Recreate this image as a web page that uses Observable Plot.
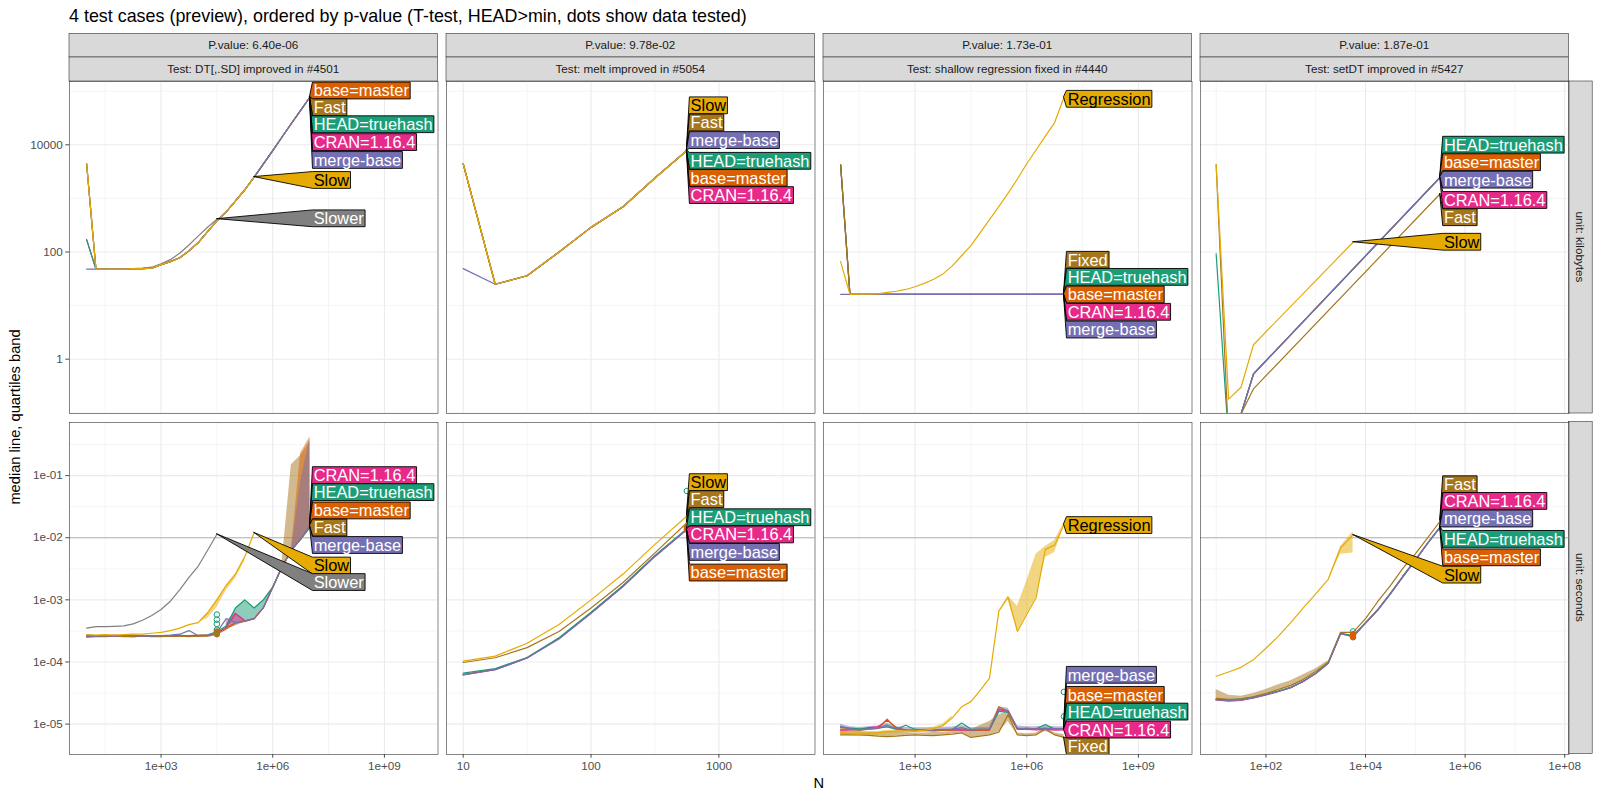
<!DOCTYPE html>
<html><head><meta charset="utf-8">
<script src="https://cdn.jsdelivr.net/npm/d3@7"></script>
<script src="https://cdn.jsdelivr.net/npm/@observablehq/plot@0.6"></script>
<style>
body{margin:0;background:#fff;}
#root{position:relative;width:1600px;height:800px;overflow:hidden;background:#fff;font-family:"Liberation Sans",Arial,Helvetica,sans-serif;}
</style></head><body><div id="root"></div>
<script>
// ---------------- text ----------------
const TITLE = "4 test cases (preview), ordered by p-value (T-test, HEAD>min, dots show data tested)";
const PVALUES = ["P.value: 6.40e-06", "P.value: 9.78e-02", "P.value: 1.73e-01", "P.value: 1.87e-01"];
const TESTS = ["Test: DT[,.SD] improved in #4501", "Test: melt improved in #5054", "Test: shallow regression fixed in #4440", "Test: setDT improved in #5427"];
const UNITS = ["unit: kilobytes", "unit: seconds"];
const X_TITLE = "N";
const Y_TITLE = "median line, quartiles band";

// ---------------- series ----------------
const SERIES = ["HEAD=truehash", "base=master", "merge-base", "CRAN=1.16.4", "Fast", "Slow", "Slower", "Regression", "Fixed"];
const COLORS = ["#1B9E77", "#D95F02", "#7570B3", "#E7298A", "#A6761D", "#E6AB02", "#808080", "#E6AB02", "#A6761D"];
const DARK_TEXT = ["Slow", "Regression"];

// ---------------- ticks ----------------
const xt_wide = [1e3, 1e6, 1e9];
const xl_wide = ["1e+03", "1e+06", "1e+09"];
const xm_wide = [31.6, 31623, 3.16e7, 3.16e10];
const xt_melt = [10, 100, 1000];
const xl_melt = ["10", "100", "1000"];
const xm_melt = [31.6, 316, 3162];
const xt_set = [100, 1e4, 1e6, 1e8];
const xl_set = ["1e+02", "1e+04", "1e+06", "1e+08"];
const xm_set = [10, 1000, 1e5, 1e7];
const yt_kb = [1, 100, 10000];
const yl_kb = ["1", "100", "10000"];
const ym_kb = [0.1, 10, 1000, 100000];
const yt_s = [1e-5, 1e-4, 1e-3, 1e-2, 1e-1];
const yl_s = ["1e-05", "1e-04", "1e-03", "1e-02", "1e-01"];
const ym_s = [3.16e-6, 3.16e-5, 3.16e-4, 3.16e-3, 3.16e-2, 0.316];
const HLINE_S = [0.01];

// ---------------- N grids ----------------
const N_dtsd = [10, 17.8, 31.6, 56.2, 100, 178, 316, 562, 1000, 1780, 3160, 5620, 10000, 17800, 31600, 56200, 100000, 178000, 316000, 562000, 1000000, 1780000, 3160000, 5620000, 10000000];
const N_melt = [10, 17.8, 31.6, 56.2, 100, 178, 316, 562];
const N_shallow = [10, 17.8, 31.6, 56.2, 100, 178, 316, 562, 1000, 1780, 3160, 5620, 10000, 17800, 31600, 56200, 100000, 178000, 316000, 562000, 1000000, 1780000, 3160000, 5620000, 10000000];
const N_set = [10, 17.8, 31.6, 56.2, 100, 178, 316, 562, 1000, 1780, 3160, 5620, 10000, 17800, 31600, 56200, 100000, 178000, 316000];

// ---------------- DT[,.SD] ----------------
const kb_dtsd = [
  ["base=master", [4430, 48, 48, 48, 48, 49, 49, 50, 58, 66, 78, 105, 150, 240, 380, 560, 900, 1450, 2500, 4400, 7800, 14000, 25000, 44000, 78000]],
  ["CRAN=1.16.4", [170, 48, 48, 48, 48, 49, 49, 50, 58, 66, 78, 105, 150, 240, 380, 560, 900, 1450, 2500, 4400, 7800, 14000, 25000, 44000, 78000]],
  ["HEAD=truehash", [170, 48, 48, 48, 48, 49, 49, 50, 58, 66, 78, 105, 150, 240, 380, 560, 900, 1450, 2500, 4400, 7800, 14000, 25000, 44000, 78000]],
  ["Fast", [4430, 48, 48, 48, 48, 49, 49, 50, 58, 66, 78, 105, 150, 240, 380, 560, 900, 1450, 2500, 4400, 7800, 14000, 25000, 44000, 78000]],
  ["Slower", [4430, 48, 48, 48, 48, 49, 50, 52, 60, 72, 95, 135, 200, 290, 410]],
  ["merge-base", [48, 48, 48, 48, 48, 49, 49, 50, 58, 66, 78, 105, 150, 240, 380, 560, 900, 1450, 2500, 4400, 7800, 14000, 25000, 44000, 78000]],
  ["Slow", [4430, 48, 48, 48, 48, 49, 49, 50, 58, 66, 78, 105, 150, 240, 380, 560, 900, 1450, 2500]]
];
const s_dtsd = [
  ["base=master", [2.6e-4, 2.6e-4, 2.65e-4, 2.65e-4, 2.6e-4, 2.6e-4, 2.65e-4, 2.6e-4, 2.65e-4, 2.6e-4, 2.6e-4, 2.65e-4, 2.7e-4, 2.7e-4, 2.9e-4, 3.6e-4, 4.3e-4, 4.6e-4, 5.0e-4, 7.5e-4, 1.6e-3, 3.4e-3, 6.3e-3, 9.5e-3, 0.0155]],
  ["CRAN=1.16.4", [2.55e-4, 2.6e-4, 2.6e-4, 2.7e-4, 2.6e-4, 2.55e-4, 2.6e-4, 2.6e-4, 2.6e-4, 2.6e-4, 2.65e-4, 2.6e-4, 2.6e-4, 2.65e-4, 2.9e-4, 3.6e-4, 6.0e-4, 4.6e-4, 5.0e-4, 7.5e-4, 1.6e-3, 3.4e-3, 6.3e-3, 9.5e-3, 0.0155]],
  ["HEAD=truehash", [2.7e-4, 2.65e-4, 2.7e-4, 2.6e-4, 2.65e-4, 2.7e-4, 2.6e-4, 2.65e-4, 2.6e-4, 2.65e-4, 2.7e-4, 2.6e-4, 2.65e-4, 2.7e-4, 3.1e-4, 3.8e-4, 7.4e-4, 1.0e-3, 7.4e-4, 1.0e-3, 1.6e-3, 3.4e-3, 6.3e-3, 9.5e-3, 0.0145]],
  ["Fast", [2.5e-4, 2.55e-4, 2.55e-4, 2.6e-4, 2.55e-4, 2.55e-4, 2.6e-4, 2.55e-4, 2.55e-4, 2.6e-4, 2.6e-4, 2.55e-4, 2.6e-4, 2.6e-4, 2.8e-4, 3.4e-4, 4.2e-4, 4.5e-4, 5.0e-4, 7.5e-4, 1.6e-3, 3.4e-3, 6.3e-3, 9.5e-3, 0.0155]],
  ["Slower", [3.5e-4, 3.7e-4, 3.7e-4, 3.75e-4, 3.8e-4, 4.1e-4, 4.7e-4, 5.6e-4, 7.0e-4, 9.5e-4, 1.45e-3, 2.3e-3, 3.5e-3, 6.3e-3, 0.0114]],
  ["merge-base", [2.6e-4, 2.6e-4, 2.65e-4, 2.6e-4, 2.7e-4, 2.65e-4, 2.6e-4, 2.6e-4, 2.65e-4, 2.7e-4, 2.8e-4, 3.2e-4, 2.65e-4, 2.7e-4, 3.0e-4, 5.0e-4, 4.3e-4, 4.6e-4, 5.0e-4, 7.5e-4, 1.6e-3, 3.4e-3, 6.3e-3, 9.5e-3, 0.0155]],
  ["Slow", [2.75e-4, 2.7e-4, 2.75e-4, 2.7e-4, 2.75e-4, 2.8e-4, 2.8e-4, 2.9e-4, 3.0e-4, 3.2e-4, 3.5e-4, 4.0e-4, 4.3e-4, 6.2e-4, 1.0e-3, 1.7e-3, 2.6e-3, 5.0e-3, 0.012]]
];
const bands_s_dtsd = [
  ["HEAD=truehash", [56200, 100000, 178000, 316000, 562000, 1000000], [3.8e-4, 4.3e-4, 4.6e-4, 5.0e-4, 7.5e-4, 1.6e-3], [3.8e-4, 7.4e-4, 1.0e-3, 7.4e-4, 1.0e-3, 1.6e-3]],
  ["CRAN=1.16.4", [56200, 100000, 178000], [3.4e-4, 3.8e-4, 4.4e-4], [4.5e-4, 6.2e-4, 4.8e-4]],
  ["Slow", [10000, 17800, 31600, 56200, 100000, 178000], [4.3e-4, 5.0e-4, 7.5e-4, 1.4e-3, 2.2e-3, 4.2e-3], [4.3e-4, 6.2e-4, 1.0e-3, 1.7e-3, 2.6e-3, 5.0e-3]],
  ["Fast", [1780000, 3160000, 5620000, 10000000], [3.4e-3, 6.3e-3, 9.5e-3, 0.0155], [4.0e-3, 0.15, 0.21, 0.35]],
  ["base=master", [3160000, 5620000, 10000000], [6.3e-3, 9.5e-3, 0.0155], [6.3e-3, 0.23, 0.42]],
  ["merge-base", [3160000, 5620000, 10000000], [6.3e-3, 9.5e-3, 0.0155], [6.3e-3, 0.08, 0.40]]
];
const dots_s_dtsd = [
  ["HEAD=truehash", 31600, [5.8e-4, 4.8e-4, 4.1e-4, 3.3e-4]],
  ["Fast", 31600, [3.1e-4, 2.8e-4]]
];
const lab_kb_dtsd = [["base=master", 100900], ["Fast", 49200], ["HEAD=truehash", 23700], ["CRAN=1.16.4", 11000], ["merge-base", 5100], ["Slow", 2160], ["Slower", 416]];
const lab_s_dtsd = [["CRAN=1.16.4", 0.1], ["HEAD=truehash", 0.0532], ["base=master", 0.027], ["Fast", 0.0143], ["merge-base", 7.5e-3], ["Slow", 3.5e-3], ["Slower", 1.9e-3]];

// ---------------- melt ----------------
const kb_melt = [
  ["base=master", [4430, 25, 36, 100, 288, 700, 2400, 7830]],
  ["CRAN=1.16.4", [4430, 25, 36, 100, 288, 700, 2400, 7830]],
  ["HEAD=truehash", [4430, 25, 36, 100, 288, 700, 2400, 7830]],
  ["Fast", [4430, 25, 36, 100, 288, 700, 2400, 7830]],
  ["merge-base", [49, 25, 36, 100, 288, 700, 2400, 7830]],
  ["Slow", [4430, 25, 36, 100, 288, 700, 2400, 7830]]
];
const s_melt = [
  ["base=master", [6.3e-5, 7.6e-5, 1.17e-4, 2.4e-4, 6.2e-4, 1.67e-3, 5.1e-3, 0.0137]],
  ["CRAN=1.16.4", [6.2e-5, 7.5e-5, 1.16e-4, 2.4e-4, 6.1e-4, 1.65e-3, 5.0e-3, 0.0135]],
  ["HEAD=truehash", [6.6e-5, 7.8e-5, 1.18e-4, 2.45e-4, 6.3e-4, 1.7e-3, 5.2e-3, 0.014]],
  ["Fast", [9.8e-5, 1.17e-4, 1.7e-4, 3.1e-4, 7.4e-4, 1.9e-3, 5.7e-3, 0.0174]],
  ["merge-base", [6.2e-5, 7.5e-5, 1.16e-4, 2.35e-4, 6.1e-4, 1.64e-3, 5.0e-3, 0.0136]],
  ["Slow", [1.03e-4, 1.24e-4, 2.0e-4, 4.0e-4, 1.0e-3, 2.6e-3, 7.8e-3, 0.0224]]
];
const dots_s_melt = [
  ["HEAD=truehash", 562, [0.0566]],
  ["base=master", 562, [0.0145, 0.0135]]
];
const lab_kb_melt = [["Slow", 53400], ["Fast", 25500], ["merge-base", 12000], ["HEAD=truehash", 4920], ["base=master", 2370], ["CRAN=1.16.4", 1130]];
const lab_s_melt = [["Slow", 0.077], ["Fast", 0.041], ["HEAD=truehash", 0.021], ["CRAN=1.16.4", 0.0111], ["merge-base", 5.8e-3], ["base=master", 2.7e-3]];

// ---------------- shallow regression ----------------
const kb_shallow = [
  ["base=master", [4240, 16.2, 16.2, 16.2, 16.2, 16.2, 16.2, 16.2, 16.2, 16.2, 16.2, 16.2, 16.2, 16.2, 16.2, 16.2, 16.2, 16.2, 16.2, 16.2, 16.2, 16.2, 16.2, 16.2, 16.2]],
  ["CRAN=1.16.4", [4240, 16.2, 16.2, 16.2, 16.2, 16.2, 16.2, 16.2, 16.2, 16.2, 16.2, 16.2, 16.2, 16.2, 16.2, 16.2, 16.2, 16.2, 16.2, 16.2, 16.2, 16.2, 16.2, 16.2, 16.2]],
  ["HEAD=truehash", [4240, 16.2, 16.2, 16.2, 16.2, 16.2, 16.2, 16.2, 16.2, 16.2, 16.2, 16.2, 16.2, 16.2, 16.2, 16.2, 16.2, 16.2, 16.2, 16.2, 16.2, 16.2, 16.2, 16.2, 16.2]],
  ["Fixed", [4240, 16.2, 16.2, 16.2, 16.2, 16.2, 16.2, 16.2, 16.2, 16.2, 16.2, 16.2, 16.2, 16.2, 16.2, 16.2, 16.2, 16.2, 16.2, 16.2, 16.2, 16.2, 16.2, 16.2, 16.2]],
  ["merge-base", [16.2, 16.2, 16.2, 16.2, 16.2, 16.2, 16.2, 16.2, 16.2, 16.2, 16.2, 16.2, 16.2, 16.2, 16.2, 16.2, 16.2, 16.2, 16.2, 16.2, 16.2, 16.2, 16.2, 16.2, 16.2]],
  ["Regression", [66, 16.2, 16.3, 16.4, 16.6, 17.6, 18.5, 20, 22.5, 26, 31, 39, 55, 85, 131, 230, 400, 700, 1250, 2300, 4430, 8000, 14500, 26000, 77000]]
];
const s_shallow = [
  ["CRAN=1.16.4", [8.0e-6, 8.1e-6, 8.2e-6, 8.8e-6, 9.0e-6, 1.15e-5, 8.8e-6, 8.0e-6, 7.8e-6, 7.9e-6, 7.8e-6, 7.9e-6, 8.0e-6, 8.1e-6, 7.9e-6, 7.9e-6, 8.0e-6, 1.7e-5, 1.6e-5, 8.2e-6, 8.2e-6, 8.1e-6, 8.2e-6, 8.0e-6, 8.1e-6]],
  ["HEAD=truehash", [8.8e-6, 8.6e-6, 8.4e-6, 8.5e-6, 8.6e-6, 9.0e-6, 8.3e-6, 9.6e-6, 8.2e-6, 8.1e-6, 8.0e-6, 8.1e-6, 8.2e-6, 1.04e-5, 8.3e-6, 8.2e-6, 8.2e-6, 1.6e-5, 1.55e-5, 8.4e-6, 8.3e-6, 8.4e-6, 9.8e-6, 8.3e-6, 8.5e-6]],
  ["base=master", [8.3e-6, 8.2e-6, 8.0e-6, 8.3e-6, 8.5e-6, 1.2e-5, 8.4e-6, 8.0e-6, 7.9e-6, 8.0e-6, 7.9e-6, 8.0e-6, 8.1e-6, 8.3e-6, 8.0e-6, 8.0e-6, 8.1e-6, 1.9e-5, 1.6e-5, 8.3e-6, 8.6e-6, 8.3e-6, 8.5e-6, 8.2e-6, 8.3e-6]],
  ["Fixed", [6.7e-6, 6.7e-6, 6.7e-6, 6.6e-6, 6.4e-6, 6.3e-6, 6.4e-6, 6.6e-6, 6.7e-6, 6.6e-6, 6.5e-6, 6.7e-6, 6.9e-6, 7.2e-6, 6.1e-6, 6.4e-6, 6.7e-6, 7.4e-6, 1.42e-5, 6.7e-6, 6.5e-6, 6.7e-6, 8.4e-6, 6.7e-6, 6.1e-6]],
  ["merge-base", [9.2e-6, 8.4e-6, 8.1e-6, 8.4e-6, 8.6e-6, 9.6e-6, 8.4e-6, 8.1e-6, 8.0e-6, 8.0e-6, 8.0e-6, 8.2e-6, 8.3e-6, 8.8e-6, 8.0e-6, 8.2e-6, 8.2e-6, 1.75e-5, 1.65e-5, 8.6e-6, 8.4e-6, 8.4e-6, 8.6e-6, 8.4e-6, 8.4e-6]],
  ["Regression", [7.2e-6, 7.0e-6, 6.9e-6, 7.1e-6, 7.3e-6, 7.6e-6, 7.7e-6, 7.8e-6, 7.8e-6, 8.0e-6, 8.4e-6, 9.5e-6, 1.26e-5, 1.9e-5, 2.3e-5, 3.5e-5, 5.5e-5, 6.6e-4, 1.1e-3, 3.1e-4, 5.8e-4, 1.08e-3, 6.5e-3, 7.6e-3, 0.0164]]
];
const bands_s_shallow = [
  ["Fixed", [10, 17.8, 31.6, 56.2, 100, 178, 316, 562, 1000, 1780, 3160, 5620, 10000, 17800, 31600, 56200, 100000, 178000, 316000, 562000, 1000000, 1780000, 3160000, 5620000, 10000000],
    [6.7e-6, 6.7e-6, 6.7e-6, 6.6e-6, 6.4e-6, 6.3e-6, 6.4e-6, 6.6e-6, 6.7e-6, 6.6e-6, 6.5e-6, 6.7e-6, 6.9e-6, 7.2e-6, 6.1e-6, 6.4e-6, 6.7e-6, 7.4e-6, 1.1e-5, 6.7e-6, 6.5e-6, 6.7e-6, 7.6e-6, 6.7e-6, 6.1e-6],
    [8.0e-6, 7.8e-6, 7.6e-6, 7.4e-6, 7.3e-6, 7.6e-6, 7.5e-6, 7.3e-6, 7.2e-6, 7.2e-6, 7.3e-6, 7.4e-6, 7.6e-6, 8.4e-6, 8.0e-6, 9.5e-6, 1.1e-5, 1.4e-5, 1.6e-5, 7.2e-6, 7.0e-6, 7.2e-6, 8.8e-6, 7.2e-6, 6.8e-6]],
  ["merge-base", [10, 17.8, 31.6, 56.2, 100, 178, 316, 562, 1000, 1780, 3160, 5620, 10000, 17800, 31600, 56200, 100000, 178000, 316000, 562000, 1000000, 1780000, 3160000, 5620000, 10000000],
    [8.6e-6, 7.9e-6, 7.6e-6, 7.9e-6, 8.1e-6, 8.9e-6, 7.9e-6, 7.6e-6, 7.5e-6, 7.5e-6, 7.5e-6, 7.7e-6, 7.8e-6, 8.2e-6, 7.5e-6, 7.7e-6, 7.7e-6, 1.55e-5, 1.5e-5, 8.0e-6, 7.9e-6, 7.9e-6, 8.0e-6, 7.9e-6, 7.9e-6],
    [9.9e-6, 9.1e-6, 8.8e-6, 9.1e-6, 9.3e-6, 1.03e-5, 9.1e-6, 8.8e-6, 8.7e-6, 8.7e-6, 8.7e-6, 8.9e-6, 9.0e-6, 9.5e-6, 8.7e-6, 8.9e-6, 8.9e-6, 1.9e-5, 1.8e-5, 9.3e-6, 9.1e-6, 9.1e-6, 9.3e-6, 9.1e-6, 9.1e-6]],
  ["Regression", [10, 17.8, 31.6, 56.2, 100, 178, 316, 562, 1000, 1780, 3160, 5620, 10000],
    [6.6e-6, 6.5e-6, 6.4e-6, 6.5e-6, 6.7e-6, 6.9e-6, 7.1e-6, 7.3e-6, 7.4e-6, 7.6e-6, 8.0e-6, 9.0e-6, 1.2e-5],
    [7.8e-6, 7.6e-6, 7.4e-6, 7.5e-6, 7.6e-6, 7.9e-6, 8.0e-6, 8.1e-6, 8.1e-6, 8.3e-6, 8.9e-6, 1.0e-5, 1.35e-5]],
  ["Regression", [178000, 316000, 562000, 1000000, 1780000, 3160000, 5620000, 10000000],
    [6.6e-4, 1.0e-3, 3.1e-4, 5.8e-4, 1.08e-3, 4.8e-3, 5.8e-3, 0.015],
    [6.6e-4, 1.15e-3, 7.9e-4, 2.0e-3, 5.4e-3, 7.2e-3, 9.0e-3, 0.0172]]
];
const dots_s_shallow = [
  ["HEAD=truehash", 10000000, [3.3e-5, 1.33e-5]]
];
const lab_kb_shallow = [["Regression", 70600], ["Fixed", 70], ["HEAD=truehash", 33.6], ["base=master", 15.8], ["CRAN=1.16.4", 7.5], ["merge-base", 3.5]];
const lab_s_shallow = [["Regression", 0.0157], ["merge-base", 6.1e-5], ["base=master", 2.9e-5], ["HEAD=truehash", 1.56e-5], ["CRAN=1.16.4", 8.0e-6], ["Fixed", 4.3e-6]];

// ---------------- setDT ----------------
const kb_set = [
  ["base=master", [0.05, 0.03, 0.095, 0.53, null, null, null, null, null, null, null, null, null, null, null, null, null, null, 2480]],
  ["CRAN=1.16.4", [0.05, 0.03, 0.095, 0.53, null, null, null, null, null, null, null, null, null, null, null, null, null, null, 2480]],
  ["HEAD=truehash", [92.5, 0.03, 0.095, 0.53, null, null, null, null, null, null, null, null, null, null, null, null, null, null, 2480]],
  ["Fast", [4290, 0.03, 0.095, 0.28, null, null, null, null, null, null, null, null, null, null, null, null, null, null, 1220]],
  ["merge-base", [0.05, 0.03, 0.095, 0.53, null, null, null, null, null, null, null, null, null, null, null, null, null, null, 2480]],
  ["Slow", [4290, 0.18, 0.30, 1.86, null, null, null, null, null, null, null, 152]]
];
const s_set = [
  ["base=master", [2.5e-5, 2.45e-5, 2.5e-5, 2.7e-5, 3.0e-5, 3.4e-5, 3.9e-5, 4.9e-5, 6.6e-5, 9.6e-5, 2.9e-4, 2.6e-4, 4.3e-4, 7.0e-4, 1.27e-3, 2.4e-3, 4.4e-3, 8.3e-3, 0.015]],
  ["CRAN=1.16.4", [2.45e-5, 2.35e-5, 2.4e-5, 2.65e-5, 2.95e-5, 3.35e-5, 3.85e-5, 4.85e-5, 6.5e-5, 9.5e-5, 2.85e-4, 2.55e-4, 4.2e-4, 6.9e-4, 1.25e-3, 2.35e-3, 4.3e-3, 8.2e-3, 0.0148]],
  ["HEAD=truehash", [2.5e-5, 2.45e-5, 2.55e-5, 2.75e-5, 3.05e-5, 3.4e-5, 3.9e-5, 4.9e-5, 6.6e-5, 9.6e-5, 2.9e-4, 2.65e-4, 4.3e-4, 7.0e-4, 1.27e-3, 2.4e-3, 4.4e-3, 8.3e-3, 0.015]],
  ["Fast", [2.6e-5, 2.5e-5, 2.5e-5, 2.75e-5, 3.1e-5, 3.6e-5, 4.2e-5, 5.2e-5, 7.0e-5, 1.0e-4, 3.0e-4, 3.0e-4, 5.0e-4, 9.5e-4, 1.7e-3, 3.2e-3, 5.5e-3, 1.0e-2, 0.0186]],
  ["merge-base", [2.45e-5, 2.4e-5, 2.45e-5, 2.65e-5, 2.95e-5, 3.35e-5, 3.85e-5, 4.85e-5, 6.5e-5, 9.5e-5, 2.85e-4, 2.55e-4, 4.25e-4, 6.9e-4, 1.25e-3, 2.35e-3, 4.3e-3, 8.2e-3, 0.0147]],
  ["Slow", [5.9e-5, 6.9e-5, 8.2e-5, 1.09e-4, 1.66e-4, 2.6e-4, 4.3e-4, 7.4e-4, 1.25e-3, 2.13e-3, 6.9e-3, 0.0111]]
];
const bands_s_set = [
  ["Fast", [10, 17.8, 31.6, 56.2, 100, 178, 316, 562, 1000, 1780],
    [2.4e-5, 2.45e-5, 2.45e-5, 2.7e-5, 3.0e-5, 3.5e-5, 4.0e-5, 5.1e-5, 6.9e-5, 9.8e-5],
    [3.6e-5, 2.9e-5, 2.8e-5, 3.1e-5, 3.6e-5, 4.3e-5, 5.0e-5, 6.2e-5, 7.8e-5, 1.05e-4]],
  ["Slow", [1780, 3160, 5620], [2.13e-3, 5.4e-3, 5.7e-3], [2.13e-3, 7.2e-3, 0.0125]]
];
const dots_s_set = [
  ["HEAD=truehash", 5620, [3.1e-4]],
  ["base=master", 5620, [2.8e-4, 2.5e-4]]
];
const lab_kb_set = [["HEAD=truehash", 9830], ["base=master", 4640], ["merge-base", 2190], ["CRAN=1.16.4", 914], ["Fast", 436], ["Slow", 152]];
const lab_s_set = [["Fast", 0.0713], ["CRAN=1.16.4", 0.0384], ["merge-base", 0.020], ["HEAD=truehash", 0.0094], ["base=master", 4.75e-3], ["Slow", 2.5e-3]];

// ---------------- layout ----------------
const FONT = '"Liberation Sans", Arial, Helvetica, sans-serif';
const PANEL_X = [69, 446, 823, 1200];
const PANEL_W = 368.5;
const PANEL_Y = [81, 421.5];
const PANEL_H = [332, 332];
const LABEL_FONT = 16.4, LABEL_H = 16.8;
const LINE_W = 1.2;

const colorOf = new Map(SERIES.map((s, i) => [s, COLORS[i]]));
const ctx = document.createElement("canvas").getContext("2d");
ctx.font = `${LABEL_FONT}px "Liberation Sans"`;
const measure = t => ctx.measureText(t).width;

function rowsFrom(N, table) {
  const out = [];
  for (const [s, vals] of table) vals.forEach((v, i) => { if (v != null) out.push({series: s, N: N[i], v}); });
  return out;
}
function bandsFrom(table) {
  const out = [];
  table.forEach(([s, Ns, lo, hi], k) => Ns.forEach((n, i) => out.push({series: s, grp: s + k, N: n, lo: lo[i], hi: hi[i]})));
  return out;
}
function dotsFrom(table) {
  const out = [];
  for (const [s, n, vals] of table) for (const v of vals) out.push({series: s, N: n, v});
  return out;
}

let clipId = 0;
function labelMark(labels, lineRows, maxN, ml, w, h) {
  return (index, scales) => {
    const id = "lblclip" + (clipId++);
    const g = d3.create("svg:g").attr("text-anchor", "start");
    g.append("defs").append("clipPath").attr("id", id)
      .append("rect").attr("x", ml).attr("y", 0).attr("width", w).attr("height", h);
    const inner = g.append("g").attr("clip-path", `url(#${id})`);
    const bx = scales.x(maxN) + 3;
    for (const [s, ly] of labels) {
      const pts = lineRows.filter(d => d.series === s);
      const end = pts[pts.length - 1];
      const tx = scales.x(end.N), ty = scales.y(end.v);
      const cy = scales.y(ly);
      const bw = measure(s) + 2.5;
      const t = cy - LABEL_H / 2, b = cy + LABEL_H / 2;
      inner.append("polygon")
        .attr("points", [[tx, ty], [bx, t], [bx + bw, t], [bx + bw, b], [bx, b]].map(p => p.join(",")).join(" "))
        .attr("fill", colorOf.get(s)).attr("stroke", "#000").attr("stroke-width", 0.9).attr("stroke-linejoin", "miter");
      inner.append("text").attr("x", bx + 1.2).attr("y", cy).attr("dy", "0.36em")
        .attr("text-anchor", "start")
        .attr("font-family", FONT).attr("font-size", LABEL_FONT + "px")
        .attr("fill", DARK_TEXT.includes(s) ? "#000" : "#fff").text(s);
    }
    return g.node();
  };
}

const root = document.getElementById("root");
const ov = d3.select(root).append("svg").attr("width", 1600).attr("height", 800)
  .style("position", "absolute").style("left", "0px").style("top", "0px").attr("font-family", FONT);

ov.append("text").attr("x", 69).attr("y", 21.7).attr("font-size", "17.9px").attr("fill", "#000").text(TITLE);
PANEL_X.forEach((x, c) => {
  ov.append("rect").attr("x", x).attr("y", 33.3).attr("width", PANEL_W).attr("height", 23.7)
    .attr("fill", "#D9D9D9").attr("stroke", "#333").attr("stroke-width", 0.6);
  ov.append("rect").attr("x", x).attr("y", 57).attr("width", PANEL_W).attr("height", 24)
    .attr("fill", "#D9D9D9").attr("stroke", "#333").attr("stroke-width", 0.6);
  ov.append("text").attr("x", x + PANEL_W / 2).attr("y", 45.2).attr("dy", "0.35em").attr("text-anchor", "middle")
    .attr("font-size", "11.7px").attr("fill", "#1A1A1A").text(PVALUES[c]);
  ov.append("text").attr("x", x + PANEL_W / 2).attr("y", 69).attr("dy", "0.35em").attr("text-anchor", "middle")
    .attr("font-size", "11.7px").attr("fill", "#1A1A1A").text(TESTS[c]);
});
PANEL_Y.forEach((y, r) => {
  const sx = PANEL_X[3] + PANEL_W;
  ov.append("rect").attr("x", sx).attr("y", y).attr("width", 23.7).attr("height", PANEL_H[r])
    .attr("fill", "#D9D9D9").attr("stroke", "#333").attr("stroke-width", 0.6);
  ov.append("text").attr("transform", `translate(${sx + 11.85},${y + PANEL_H[r] / 2}) rotate(90)`)
    .attr("dy", "0.35em").attr("text-anchor", "middle").attr("font-size", "11.7px").attr("fill", "#1A1A1A").text(UNITS[r]);
});
ov.append("text").attr("x", (PANEL_X[0] + PANEL_X[3] + PANEL_W) / 2).attr("y", 788).attr("text-anchor", "middle")
  .attr("font-size", "14.67px").attr("fill", "#000").text(X_TITLE);
ov.append("text").attr("transform", `translate(20,417) rotate(-90)`).attr("text-anchor", "middle")
  .attr("font-size", "14.67px").attr("fill", "#000").text(Y_TITLE);

const PANELS = [
  {N: N_dtsd, kb: kb_dtsd, s: s_dtsd, bands: bands_s_dtsd, dots: dots_s_dtsd, labKb: lab_kb_dtsd, labS: lab_s_dtsd,
   xDomain: [3.47, 2.75e10], xt: xt_wide, xl: xl_wide, xm: xm_wide},
  {N: N_melt, kb: kb_melt, s: s_melt, bands: [], dots: dots_s_melt, labKb: lab_kb_melt, labS: lab_s_melt,
   xDomain: [7.405, 5645], xt: xt_melt, xl: xl_melt, xm: xm_melt},
  {N: N_shallow, kb: kb_shallow, s: s_shallow, bands: bands_s_shallow, dots: dots_s_shallow, labKb: lab_kb_shallow, labS: lab_s_shallow,
   xDomain: [3.47, 2.75e10], xt: xt_wide, xl: xl_wide, xm: xm_wide},
  {N: N_set, kb: kb_set, s: s_set, bands: bands_s_set, dots: dots_s_set, labKb: lab_kb_set, labS: lab_s_set,
   xDomain: [4.85, 1.22e8], xt: xt_set, xl: xl_set, xm: xm_set}
];
const Y_ROWS = [
  {domain: [0.097, 151700], yt: yt_kb, yl: yl_kb, ym: ym_kb},
  {domain: [3.24e-6, 0.716], yt: yt_s, yl: yl_s, ym: ym_s}
];

PANELS.forEach((p, c) => {
  [0, 1].forEach(r => {
    const top = r === 0;
    const ml = c === 0 ? 45 : 0, mb = top ? 0 : 32;
    const W = PANEL_W, H = PANEL_H[r];
    const yr = Y_ROWS[r];
    const lineRows = rowsFrom(p.N, top ? p.kb : p.s);
    const bandRows = top ? [] : bandsFrom(p.bands);
    const dotRows = top ? [] : dotsFrom(p.dots);
    const openDots = dotRows.filter(d => d.series === "HEAD=truehash");
    const fillDots = dotRows.filter(d => d.series !== "HEAD=truehash");
    const xlab = new Map(p.xt.map((t, i) => [t, p.xl[i]]));
    const ylab = new Map(yr.yt.map((t, i) => [t, yr.yl[i]]));
    const maxN = d3.max(p.N);
    const marks = [
      Plot.ruleX(p.xm, {stroke: "#EBEBEB", strokeWidth: 0.55, clip: true}),
      Plot.ruleY(yr.ym, {stroke: "#EBEBEB", strokeWidth: 0.55, clip: true}),
      Plot.ruleX(p.xt, {stroke: "#EBEBEB", strokeWidth: 1.1, clip: true}),
      Plot.ruleY(yr.yt, {stroke: "#EBEBEB", strokeWidth: 1.1, clip: true})
    ];
    if (!top) marks.push(Plot.ruleY(HLINE_S, {stroke: "#B3B3B3", strokeWidth: 1.1, clip: true}));
    marks.push(
      Plot.areaY(bandRows, {x: "N", y1: "lo", y2: "hi", z: "grp", fill: "series", fillOpacity: 0.5, clip: true}),
      Plot.line(lineRows, {x: "N", y: "v", z: "series", stroke: "series", strokeWidth: LINE_W, clip: true}),
      Plot.dot(openDots, {x: "N", y: "v", stroke: "series", fill: "none", r: 2.8, strokeWidth: 1, clip: true}),
      Plot.dot(fillDots, {x: "N", y: "v", stroke: "series", fill: "series", r: 2.8, strokeWidth: 1, clip: true}),
      labelMark(top ? p.labKb : p.labS, lineRows, maxN, ml, W, H),
      Plot.frame({stroke: "#333", strokeWidth: 0.6})
    );
    const svg = Plot.plot({
      width: W + ml, height: H + mb,
      marginLeft: ml, marginRight: 0, marginTop: 0, marginBottom: mb,
      style: {background: "transparent", overflow: "visible", fontFamily: FONT, fontSize: "11.7px", color: "#4D4D4D"},
      x: {type: "log", domain: p.xDomain, ticks: p.xt, tickFormat: d => xlab.get(d), tickSize: 3.7, tickPadding: 3, label: null, axis: top ? null : "bottom"},
      y: {type: "log", domain: yr.domain, ticks: yr.yt, tickFormat: d => ylab.get(d), tickSize: 3.7, tickPadding: 3, label: null, axis: c === 0 ? "left" : null},
      color: {domain: SERIES, range: COLORS},
      marks
    });
    svg.style.position = "absolute";
    svg.style.left = (PANEL_X[c] - ml) + "px";
    svg.style.top = PANEL_Y[r] + "px";
    root.appendChild(svg);
  });
});
</script></body></html>
